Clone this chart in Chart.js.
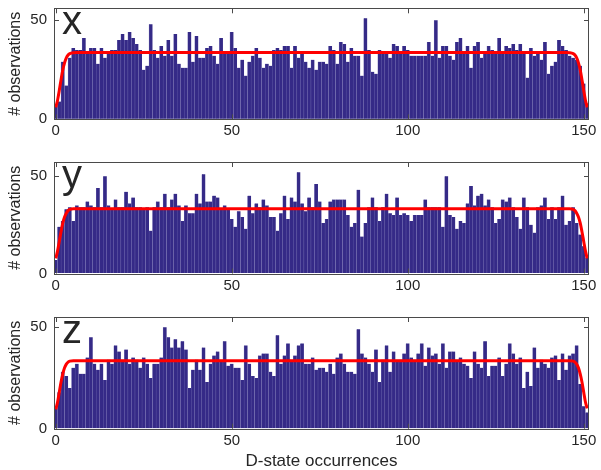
<!DOCTYPE html>
<html>
<head>
<meta charset="utf-8">
<script src="https://cdn.jsdelivr.net/npm/chart.js@4.4.1/dist/chart.umd.min.js"></script>
<style>
  body { margin: 0; background: #fff; }
  #wrap { position: relative; width: 601px; height: 470px; overflow: hidden; }
  #wrap canvas { position: absolute; left: 0; }
</style>
</head>
<body>
<div id="wrap">
  <canvas id="panelX" width="612" height="152" style="top:-2px"></canvas>
  <canvas id="panelY" width="612" height="155" style="top:150px"></canvas>
  <canvas id="panelZ" width="612" height="165" style="top:305px"></canvas>
</div>
<script>
// histogram bins (D-state occurrence count per trajectory)
const bins = Array.from({ length: 152 }, (_, i) => i);

const xCounts = [7, 9, 29, 17, 31, 36, 35, 35, 41, 34, 36, 36, 28, 36, 31, 34, 35, 35, 40, 43,
  40, 44, 41, 38, 35, 25, 27, 48, 35, 31, 37, 32, 40, 32,
  43, 28, 26, 26, 44, 29, 42, 31, 31, 36, 37, 32, 28, 41, 33, 33, 44, 36, 26, 30, 22, 29, 32, 36,
  31, 26, 28, 27, 35, 36, 35, 37, 37, 26, 37, 31, 33, 29, 26,
  30, 25, 29, 29, 28, 37, 35, 28, 39, 38, 29, 36, 32, 32, 22, 51, 35, 24, 23, 35, 34, 34, 31, 38,
  37, 33, 37, 35, 32, 32, 32, 32, 32, 39, 32, 50, 31, 37,
  37, 32, 30, 39, 41, 34, 37, 26, 37, 39, 31, 34, 37, 35, 34, 41, 34, 37, 36, 38, 35, 38, 34, 21,
  36, 32, 34, 30, 39, 23, 27, 29, 40, 37, 35, 32, 31, 30, 27, 18, 8];

const yCounts = [7, 24, 27, 33, 34, 27, 35, 34, 34, 37, 35, 34, 44, 34, 50, 35, 33, 38, 34, 34,
  42, 36, 39, 34, 34, 33, 34, 22, 34, 37, 34, 41, 34, 38, 41,
  35, 27, 35, 31, 31, 41, 36, 51, 37, 37, 40, 39, 33, 35, 33, 28, 24, 32, 29, 23, 40, 31, 36, 34,
  38, 35, 29, 29, 22, 31, 40, 28, 39, 37, 52, 36, 32, 39, 34,
  46, 37, 26, 28, 37, 38, 38, 38, 38, 30, 24, 26, 43, 19, 26, 34, 39, 34, 27, 34, 41, 31, 30, 39,
  30, 31, 30, 27, 30, 30, 30, 38, 34, 34, 34, 34, 24, 50,
  30, 29, 23, 27, 26, 36, 45, 35, 40, 41, 35, 38, 34, 26, 28, 38, 37, 39, 34, 29, 23, 39, 34, 25,
  21, 34, 35, 39, 28, 34, 28, 34, 40, 25, 27, 34, 26, 20, 14, 8];

const zCounts = [10, 18, 28, 26, 20, 30, 32, 27, 27, 35, 45, 32, 29, 32, 24, 34, 32, 41, 38, 34,
  39, 32, 35, 34, 30, 35, 32, 25, 32, 32, 35, 50, 45, 40, 44,
  40, 43, 39, 20, 29, 34, 29, 40, 23, 32, 36, 38, 34, 43, 31, 32, 30, 30, 24, 41, 32, 26, 25, 36,
  37, 37, 28, 26, 46, 32, 36, 42, 34, 36, 41, 42, 32, 32, 35,
  29, 30, 30, 28, 32, 27, 35, 37, 32, 28, 28, 27, 49, 37, 35, 32, 28, 39, 23, 34, 41, 28, 38, 34,
  34, 37, 42, 35, 34, 37, 42, 31, 40, 36, 37, 32, 42,
  30, 38, 38, 34, 35, 32, 31, 25, 38, 32, 30, 43, 26, 31, 31, 35, 26, 32, 42, 37, 32, 35, 20, 28,
  21, 40, 30, 34, 32, 30, 35, 36, 24, 37, 29, 36, 37, 41, 22, 11, 8];

// fitted curve (red), sampled at these positions
const fitX = [0, 0.5, 1, 1.5, 2, 2.5, 3, 3.5, 4, 5, 6, 145, 146, 147, 147.5, 148, 148.5, 149, 149.5, 150, 150.5, 151];
const xFit = [6, 9.5, 14.5, 20, 25, 28.5, 31, 32.4, 33.1, 33.6, 33.7, 33.7, 33.6, 33.1, 32.4, 31, 28.5, 25, 20, 14.5, 9.5, 6];
const yFit = [7.8, 11.5, 16.5, 21.5, 26, 29, 31, 32.3, 32.9, 33.3, 33.3, 33.3, 33.3, 32.9, 32.3, 31, 29, 26, 21.5, 16.5, 11.5, 7.8];
const zFit = [9.5, 13, 18, 23, 27, 30, 31.8, 32.8, 33.3, 33.5, 33.5, 33.5, 33.5, 33.3, 32.8, 31.8, 30, 27, 23, 18, 13, 10];

const panelLetters = ['x', 'y', 'z'];
const yLimits = [56, 57.3, 55];
const xTickValues = [0, 50, 100, 150];
const yTickValues = [0, 50];

const FONT = '"Liberation Sans", Arial, sans-serif';
const TEXT = '#262626';

// box around the axes, inward ticks and the panel letter
const framePlugin = {
  id: 'frame',
  afterDatasetsDraw(chart, args, opts) {
    const { ctx, chartArea: a, scales } = chart;
    ctx.save();
    ctx.strokeStyle = '#4a4a4a';
    ctx.lineWidth = 1;
    ctx.strokeRect(Math.round(a.left) + 0.5, Math.round(a.top) + 0.5,
      Math.round(a.width) - 1, Math.round(a.height));
    ctx.beginPath();
    xTickValues.forEach(v => {
      const px = Math.round(scales.x.getPixelForValue(v)) + 0.5;
      ctx.moveTo(px, a.bottom); ctx.lineTo(px, a.bottom - 5);
      ctx.moveTo(px, a.top); ctx.lineTo(px, a.top + 5);
    });
    yTickValues.forEach(v => {
      const py = Math.round(scales.y.getPixelForValue(v)) + 0.5;
      ctx.moveTo(a.left, py); ctx.lineTo(a.left + 5, py);
      ctx.moveTo(a.right, py); ctx.lineTo(a.right - 5, py);
    });
    ctx.stroke();
    ctx.fillStyle = TEXT;
    ctx.font = '40px ' + FONT;
    ctx.textBaseline = 'alphabetic';
    ctx.fillText(opts.letter, a.left + 8, a.top + 26);
    ctx.restore();
  }
};

// invisible tick marks, used only to space the labels from the box
const hiddenGrid = tick => ({
  display: true, drawOnChartArea: false, drawTicks: true,
  tickLength: tick, tickColor: 'rgba(0,0,0,0)', color: 'rgba(0,0,0,0)'
});

function makePanel(id, counts, fit, idx, target, xTitle) {
  const ctx = document.getElementById(id).getContext('2d');
  const chart = new Chart(ctx, {
    data: {
      datasets: [{
        type: 'line',
        data: fitX.map((x, i) => ({ x: x, y: fit[i] })),
        borderColor: '#ff0000',
        borderWidth: 3,
        pointRadius: 0,
        pointHoverRadius: 0,
        cubicInterpolationMode: 'monotone',
        fill: false,
        order: 0
      }, {
        type: 'bar',
        data: bins.map((b, i) => ({ x: b, y: counts[i] })),
        backgroundColor: 'rgb(53, 42, 135)',
        borderColor: '#6a63ad',
        borderWidth: { left: 0.5, right: 0, top: 0, bottom: 0 },
        borderSkipped: false,
        barPercentage: 1,
        categoryPercentage: 1,
        grouped: false,
        order: 1
      }]
    },
    options: {
      responsive: false,
      animation: false,
      layout: { autoPadding: false, padding: { left: 0, right: 23, top: target.top, bottom: 0 } },
      plugins: {
        legend: { display: false },
        tooltip: { enabled: false },
        frame: { letter: panelLetters[idx] }
      },
      scales: {
        x: {
          type: 'linear',
          offset: false,
          min: -0.5,
          max: 151.5,
          afterBuildTicks: s => { s.ticks = xTickValues.map(v => ({ value: v })); },
          afterFit: s => { s.height = s.chart.$xHeight; },
          grid: hiddenGrid(3),
          border: { display: false },
          ticks: { color: TEXT, font: { family: FONT, size: 15 }, padding: 0, maxRotation: 0, autoSkip: false },
          title: {
            display: !!xTitle,
            text: xTitle || '',
            color: TEXT,
            font: { family: FONT, size: 17, lineHeight: 1 },
            padding: { top: 0, bottom: 0 }
          }
        },
        y: {
          min: 0,
          max: yLimits[idx],
          afterBuildTicks: s => { s.ticks = yTickValues.map(v => ({ value: v })); },
          afterFit: s => { s.width = 54; },
          grid: hiddenGrid(7),
          border: { display: false },
          ticks: { color: TEXT, font: { family: FONT, size: 15 }, padding: 0 },
          title: {
            display: true,
            text: '# observations',
            color: TEXT,
            font: { family: FONT, size: 16 },
            padding: { top: 6, bottom: 0 }
          }
        }
      }
    },
    plugins: [framePlugin]
  });
  // nudge the layout so the plot box lands where the original axes are
  for (let k = 0; k < 3; k++) {
    const a = chart.chartArea;
    const pad = chart.options.layout.padding;
    pad.top += target.top - a.top;
    pad.right += a.right - target.right;
    chart.$xHeight += a.bottom - target.bottom;
    chart.update();
  }
  return chart;
}

// plot boxes in each canvas' own coordinates
const boxes = [
  { top: 10.3, bottom: 121.3, right: 589 },
  { top: 12, bottom: 123.5, right: 589 },
  { top: 12, bottom: 123.7, right: 589 }
];
Chart.prototype.$xHeight = 31;

makePanel('panelX', xCounts, xFit, 0, boxes[0], null);
makePanel('panelY', yCounts, yFit, 1, boxes[1], null);
makePanel('panelZ', zCounts, zFit, 2, boxes[2], 'D-state occurrences');
</script>
</body>
</html>
